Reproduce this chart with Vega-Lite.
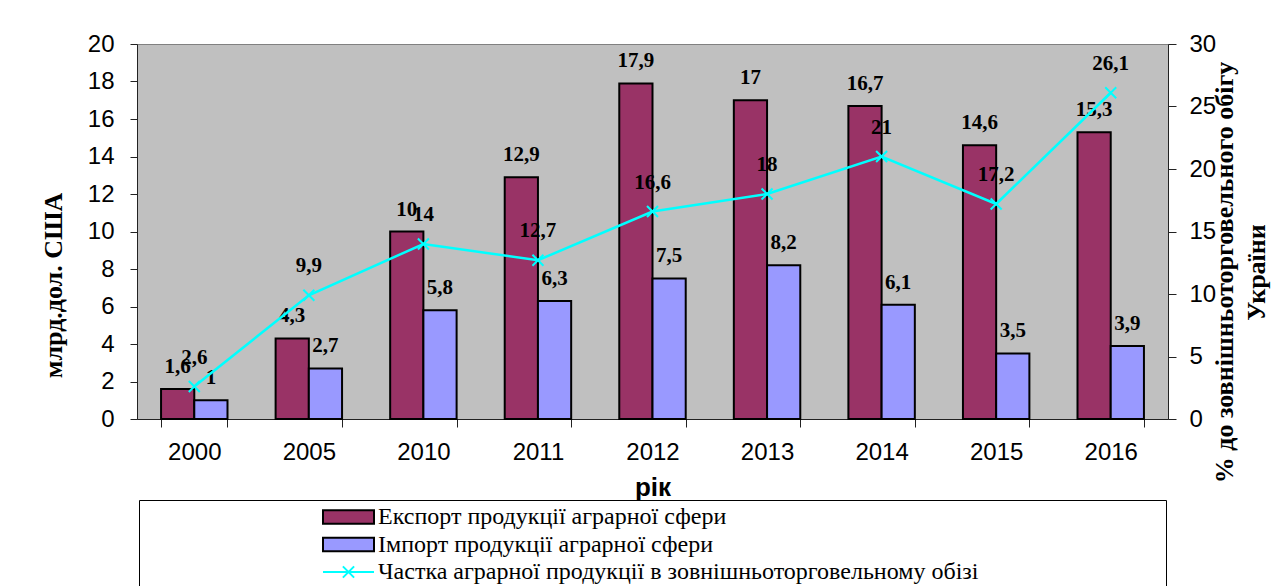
{
  "$schema": "https://vega.github.io/schema/vega-lite/v6.json",
  "width": 1031,
  "height": 375,
  "autosize": {"type": "none"},
  "padding": {"left": 137, "top": 44, "right": 109, "bottom": 167},
  "background": "white",
  "config": {
    "locale": {"number": {"decimal": ",", "thousands": " ", "grouping": [3], "currency": ["", ""]}},
    "view": {"fill": "#C0C0C0", "stroke": "#808080"},
    "axis": {"labelFont": "Liberation Sans", "labelFontSize": 24, "labelColor": "black", "domainColor": "#222", "tickColor": "#222", "grid": false, "titleColor": "black"}
  },
  "data": {
    "values": [
      {"year": "2000", "series": "Експорт продукції аграрної сфери", "value": 1.6},
      {"year": "2005", "series": "Експорт продукції аграрної сфери", "value": 4.3},
      {"year": "2010", "series": "Експорт продукції аграрної сфери", "value": 10},
      {"year": "2011", "series": "Експорт продукції аграрної сфери", "value": 12.9},
      {"year": "2012", "series": "Експорт продукції аграрної сфери", "value": 17.9},
      {"year": "2013", "series": "Експорт продукції аграрної сфери", "value": 17},
      {"year": "2014", "series": "Експорт продукції аграрної сфери", "value": 16.7},
      {"year": "2015", "series": "Експорт продукції аграрної сфери", "value": 14.6},
      {"year": "2016", "series": "Експорт продукції аграрної сфери", "value": 15.3},
      {"year": "2000", "series": "Імпорт продукції аграрної сфери", "value": 1},
      {"year": "2005", "series": "Імпорт продукції аграрної сфери", "value": 2.7},
      {"year": "2010", "series": "Імпорт продукції аграрної сфери", "value": 5.8},
      {"year": "2011", "series": "Імпорт продукції аграрної сфери", "value": 6.3},
      {"year": "2012", "series": "Імпорт продукції аграрної сфери", "value": 7.5},
      {"year": "2013", "series": "Імпорт продукції аграрної сфери", "value": 8.2},
      {"year": "2014", "series": "Імпорт продукції аграрної сфери", "value": 6.1},
      {"year": "2015", "series": "Імпорт продукції аграрної сфери", "value": 3.5},
      {"year": "2016", "series": "Імпорт продукції аграрної сфери", "value": 3.9},
      {"year": "2000", "series": "Частка аграрної продукції в зовнішньоторговельному обізі", "value": 2.6},
      {"year": "2005", "series": "Частка аграрної продукції в зовнішньоторговельному обізі", "value": 9.9},
      {"year": "2010", "series": "Частка аграрної продукції в зовнішньоторговельному обізі", "value": 14},
      {"year": "2011", "series": "Частка аграрної продукції в зовнішньоторговельному обізі", "value": 12.7},
      {"year": "2012", "series": "Частка аграрної продукції в зовнішньоторговельному обізі", "value": 16.6},
      {"year": "2013", "series": "Частка аграрної продукції в зовнішньоторговельному обізі", "value": 18},
      {"year": "2014", "series": "Частка аграрної продукції в зовнішньоторговельному обізі", "value": 21},
      {"year": "2015", "series": "Частка аграрної продукції в зовнішньоторговельному обізі", "value": 17.2},
      {"year": "2016", "series": "Частка аграрної продукції в зовнішньоторговельному обізі", "value": 26.1}
    ]
  },
  "encoding": {
    "x": {
      "field": "year",
      "type": "nominal",
      "sort": null,
      "scale": {"paddingInner": 0.42, "paddingOuter": 0.21},
      "axis": {
        "title": "рік",
        "titleFont": "Liberation Sans",
        "titleFontSize": 26,
        "titleFontWeight": "bold",
        "titleY": 68,
        "titleBaseline": "middle",
        "labelAngle": 0,
        "tickBand": "extent",
        "tickSize": 8,
        "labelPadding": 13
      }
    }
  },
  "layer": [
    {
      "transform": [{"filter": {"field": "series", "oneOf": ["Експорт продукції аграрної сфери", "Імпорт продукції аграрної сфери"]}}],
      "encoding": {
        "y": {
          "field": "value",
          "type": "quantitative",
          "scale": {"domain": [0, 20], "nice": false},
          "axis": {
            "title": "млрд.дол. США",
            "values": [0, 2, 4, 6, 8, 10, 12, 14, 16, 18, 20],
            "tickSize": 7,
            "labelPadding": 16,
            "titleFont": "Liberation Serif",
            "titleFontSize": 26,
            "titleFontWeight": "bold",
            "titleX": -84,
            "titleY": 241,
            "titleAngle": 270,
            "titleAlign": "center",
            "titleBaseline": "middle"
          }
        },
        "xOffset": {"field": "series", "type": "nominal", "scale": {"domain": ["Експорт продукції аграрної сфери", "Імпорт продукції аграрної сфери"]}}
      },
      "layer": [
        {
          "mark": {"type": "bar", "stroke": "black", "strokeWidth": 2},
          "encoding": {
            "fill": {
              "field": "series",
              "type": "nominal",
              "scale": {
                "domain": ["Експорт продукції аграрної сфери", "Імпорт продукції аграрної сфери", "Частка аграрної продукції в зовнішньоторговельному обізі"],
                "range": ["#993366", "#9999FF", "transparent"]
              }
            }
          }
        },
        {
          "mark": {"type": "text", "font": "Liberation Serif", "fontSize": 21, "fontWeight": "bold", "dy": -22, "baseline": "middle", "fill": "black"},
          "encoding": {"text": {"field": "value", "type": "quantitative", "format": ".1~f"}}
        },
        {
          "transform": [{"filter": "false"}],
          "mark": {"type": "point"},
          "encoding": {
            "fill": {
              "field": "series",
              "type": "nominal",
              "scale": {
                "domain": ["Експорт продукції аграрної сфери", "Імпорт продукції аграрної сфери", "Частка аграрної продукції в зовнішньоторговельному обізі"],
                "range": ["#993366", "#9999FF", "transparent"]
              },
              "legend": {
                "orient": "none",
                "legendX": 2,
                "legendY": 456,
                "direction": "vertical",
                "title": "\u00a0",
                "titleOrient": "right",
                "titlePadding": 182,
                "padding": 6,
                "strokeColor": "black",
                "fillColor": "white",
                "symbolSize": 2601,
                "symbolStrokeWidth": 2,
                "symbolOffset": 177,
                "labelOffset": 3,
                "clipHeight": 22,
                "rowPadding": 3.5,
                "labelFont": "Liberation Serif",
                "labelFontSize": 24,
                "labelLimit": 1000,
                "labelColor": "black"
              }
            },
            "stroke": {
              "field": "series",
              "type": "nominal",
              "scale": {
                "domain": ["Експорт продукції аграрної сфери", "Імпорт продукції аграрної сфери", "Частка аграрної продукції в зовнішньоторговельному обізі"],
                "range": ["black", "black", "#00FFFF"]
              }
            },
            "shape": {
              "field": "series",
              "type": "nominal",
              "scale": {
                "domain": ["Експорт продукції аграрної сфери", "Імпорт продукції аграрної сфери", "Частка аграрної продукції в зовнішньоторговельному обізі"],
                "range": ["M-1,-0.26H1V0.26H-1Z", "M-1,-0.26H1V0.26H-1Z", "M-1,0H1M-0.22,-0.22L0.22,0.22M-0.22,0.22L0.22,-0.22"]
              }
            }
          }
        }
      ]
    },
    {
      "transform": [{"filter": {"field": "series", "equal": "Частка аграрної продукції в зовнішньоторговельному обізі"}}],
      "encoding": {
        "y": {
          "field": "value",
          "type": "quantitative",
          "scale": {"domain": [0, 30], "nice": false},
          "axis": {
            "orient": "right",
            "title": ["% до зовнішньоторговельного обігу", "України"],
            "values": [0, 5, 10, 15, 20, 25, 30],
            "tickSize": 8,
            "labelPadding": 13,
            "titleFont": "Liberation Serif",
            "titleFontSize": 26,
            "titleFontWeight": "bold",
            "titleX": 56,
            "titleY": 228,
            "titleAngle": 270,
            "titleAlign": "center",
            "titleBaseline": "middle",
            "titleLineHeight": 32
          }
        }
      },
      "layer": [
        {"mark": {"type": "line", "stroke": "#00FFFF", "strokeWidth": 2.5}},
        {"mark": {"type": "point", "shape": "M-1,-1L1,1M-1,1L1,-1", "filled": false, "stroke": "#00FFFF", "strokeWidth": 2, "size": 121, "opacity": 1}},
        {
          "mark": {"type": "text", "font": "Liberation Serif", "fontSize": 21, "fontWeight": "bold", "dy": -29, "baseline": "middle", "fill": "black"},
          "encoding": {"text": {"field": "value", "type": "quantitative", "format": ".1~f"}}
        }
      ]
    }
  ],
  "resolve": {"scale": {"y": "independent"}}
}
